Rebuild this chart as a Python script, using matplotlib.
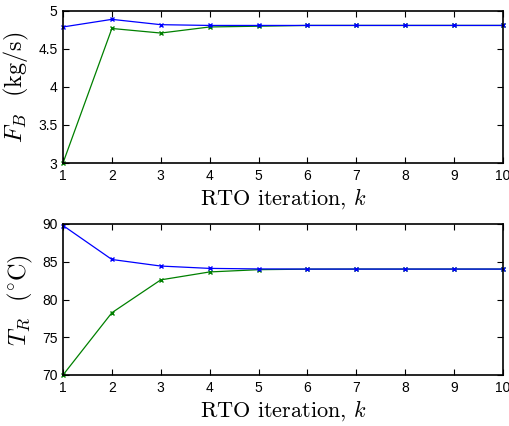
import matplotlib.pyplot as plt
import numpy as np

plt.rcParams['mathtext.fontset'] = 'cm'
plt.rcParams['font.family'] = ['Liberation Sans', 'DejaVu Sans']

k = np.arange(1, 11)

fb_blue = [4.79, 4.89, 4.82, 4.81, 4.81, 4.81, 4.81, 4.81, 4.81, 4.81]
fb_green = [3.0, 4.77, 4.71, 4.79, 4.80, 4.81, 4.81, 4.81, 4.81, 4.81]

tr_blue = [89.8, 85.3, 84.43, 84.12, 84.05, 84.03, 84.03, 84.03, 84.03, 84.03]
tr_green = [70.0, 78.25, 82.6, 83.65, 83.95, 84.02, 84.03, 84.03, 84.03, 84.03]

fig = plt.figure(figsize=(5.09, 4.26), dpi=100)
ax1 = fig.add_axes([63/509, 1 - 163/426, 440/509, 152/426])
ax2 = fig.add_axes([63/509, 1 - 375/426, 440/509, 151/426])

blue = (0, 0, 1)
green = (0, 0.5, 0)
lab = dict(fontsize=16, family='cmr10')

for ax, g, b in [(ax1, fb_green, fb_blue), (ax2, tr_green, tr_blue)]:
    ax.plot(k, g, color=green, linewidth=0.9, marker='x', markersize=3.5, markeredgewidth=1, clip_on=False)
    ax.plot(k, b, color=blue, linewidth=0.9, marker='x', markersize=3.5, markeredgewidth=1, clip_on=False)
    ax.set_xlim(1, 10)
    ax.set_xticks(k)
    ax.tick_params(direction='in', top=True, right=True, labelsize=10, length=4, width=0.8, pad=4)
    for s in ax.spines.values():
        s.set_linewidth(1.2)
    ax.set_xlabel(r'RTO iteration, $k$', labelpad=3, **lab)

ax1.set_ylim(3, 5)
ax1.set_yticks([3, 3.5, 4, 4.5, 5])
ax1.set_yticklabels(['3', '3.5', '4', '4.5', '5'])
ax1.set_ylabel(r'$F_B$  (kg/s)', labelpad=5, fontsize=17.5, family='cmr10')

ax2.set_ylim(70, 90)
ax2.set_yticks([70, 75, 80, 85, 90])
ax2.set_ylabel(r'$T_R$  ($^{\circ}$C)', labelpad=5, fontsize=17.5, family='cmr10')

fig.savefig('out.png', dpi=100)
